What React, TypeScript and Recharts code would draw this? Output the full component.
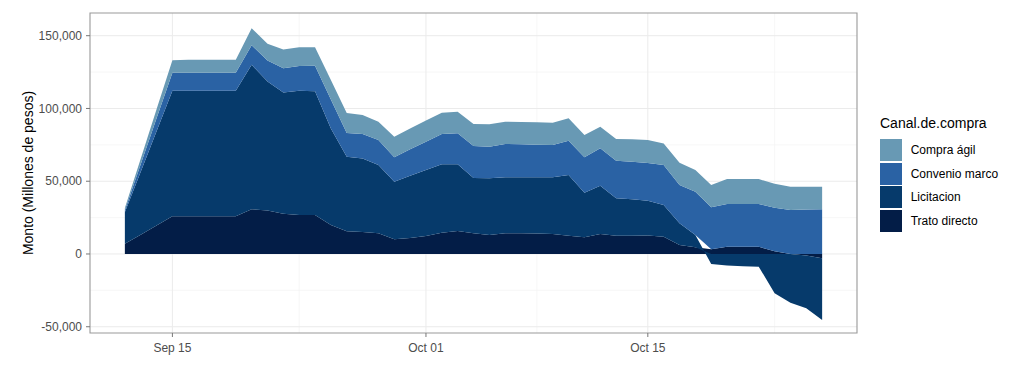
import React from 'react';
import { AreaChart, Area, XAxis, YAxis, CartesianGrid, ReferenceArea } from 'recharts';

// fechas diarias (Sep 12 - Oct 26)
const fechas = [
  '2020-09-12', '2020-09-13', '2020-09-14', '2020-09-15', '2020-09-16', '2020-09-17', '2020-09-18',
  '2020-09-19', '2020-09-20', '2020-09-21', '2020-09-22', '2020-09-23', '2020-09-24', '2020-09-25',
  '2020-09-26', '2020-09-27', '2020-09-28', '2020-09-29', '2020-09-30', '2020-10-01', '2020-10-02',
  '2020-10-03', '2020-10-04', '2020-10-05', '2020-10-06', '2020-10-07', '2020-10-08', '2020-10-09',
  '2020-10-10', '2020-10-11', '2020-10-12', '2020-10-13', '2020-10-14', '2020-10-15', '2020-10-16',
  '2020-10-17', '2020-10-18', '2020-10-19', '2020-10-20', '2020-10-21', '2020-10-22', '2020-10-23',
  '2020-10-24', '2020-10-25', '2020-10-26',
];

// montos en millones de pesos
const tratoDirecto = [
  7100, 13300, 19500, 26000, 26000, 26000, 26000, 26000, 30800, 29800, 27600, 26800, 26800, 19900,
  15600, 15100, 14200, 10100, 11000, 12400, 14600, 15800, 14200, 13100, 14200, 14200, 14100, 13700,
  12600, 11500, 13700, 12600, 12600, 12700, 11900, 6200, 4600, 3200, 5000, 5000, 5000, 1900,
  0, -1000, -3000,
];
const licitacion = [
  21500, 43200, 64800, 86200, 86200, 86200, 86200, 86200, 99200, 88700, 83400, 85400, 85000, 66400,
  51200, 50600, 46900, 39600, 42800, 45300, 47000, 45800, 38100, 38900, 38500, 38500, 38600, 39000,
  41700, 30600, 33200, 25700, 25000, 23800, 21800, 14900, 8500, -6900, -8000, -8400, -8700, -27000,
  -33500, -36300, -42300,
];
const convenioMarco = [
  1400, 5100, 8900, 12300, 12300, 12300, 12300, 12300, 13400, 14500, 16700, 16900, 17500, 19800,
  16300, 16700, 17200, 16700, 18200, 19500, 20800, 21300, 21900, 21700, 22900, 22700, 22400, 22200,
  23500, 24300, 25700, 25800, 25800, 26000, 27400, 26300, 29700, 28900, 29400, 29400, 29400, 29800,
  30200, 30500, 30700,
];
const compraAgil = [
  1600, 3900, 6300, 8700, 9000, 9000, 9000, 9000, 11800, 11400, 12900, 12900, 12700, 13400,
  13800, 13100, 12600, 14200, 14300, 14500, 14700, 14900, 15100, 15400, 15300, 15300, 15400, 15300,
  15400, 15400, 14900, 14900, 15500, 15800, 14900, 15300, 14900, 15300, 17100, 17100, 17100, 16500,
  16000, 15700, 15500,
];

const canales = [
  { key: 'trato', nombre: 'Trato directo', color: '#031d47' },
  { key: 'licitacion', nombre: 'Licitacion', color: '#063a6b' },
  { key: 'convenio', nombre: 'Convenio marco', color: '#2a62a4' },
  { key: 'compra', nombre: 'Compra ágil', color: '#6899b4' },
];

const xTickFechas = ['2020-09-15', '2020-10-01', '2020-10-15'];
const xMinorFechas = ['2020-09-23', '2020-10-08', '2020-10-23'];
const yTicks = [-50000, 0, 50000, 100000, 150000];
const yMinor = [-25000, 25000, 75000, 125000];
const yDomain = [-54300, 165600];

const DAY = 86400000;
const MESES = ['Jan', 'Feb', 'Mar', 'Apr', 'May', 'Jun', 'Jul', 'Aug', 'Sep', 'Oct', 'Nov', 'Dec'];
const toTime = (s: string) => new Date(s + 'T00:00:00Z').getTime();

const data = fechas.map((f, i) => ({
  fecha: toTime(f),
  trato: tratoDirecto[i],
  licitacion: licitacion[i],
  convenio: convenioMarco[i],
  compra: compraAgil[i],
}));

const xDomain = [toTime(fechas[0]) - 2.2 * DAY, toTime(fechas[fechas.length - 1]) + 2.2 * DAY];

const formatFecha = (t: number) => {
  const d = new Date(t);
  return `${MESES[d.getUTCMonth()]} ${String(d.getUTCDate()).padStart(2, '0')}`;
};
const formatMonto = (v: number) => v.toLocaleString('en-US');

const FONT = '"Liberation Sans", Arial, sans-serif';

export default function App() {
  return (
    <div style={{ position: 'relative', width: 1016, height: 362, fontFamily: FONT }}>
      <AreaChart
        width={1016}
        height={362}
        data={data}
        stackOffset="sign"
        margin={{ top: 5, right: 167, left: 0, bottom: 0 }}
      >
        <CartesianGrid
          stroke="#f3f3f3"
          strokeWidth={0.7}
          horizontalValues={yMinor}
          verticalValues={xMinorFechas.map(toTime)}
        />
        <CartesianGrid
          stroke="#ebebeb"
          strokeWidth={1}
          horizontalValues={yTicks}
          verticalValues={xTickFechas.map(toTime)}
        />
        <XAxis
          dataKey="fecha"
          type="number"
          domain={xDomain}
          allowDataOverflow
          ticks={xTickFechas.map(toTime)}
          interval={0}
          tickFormatter={formatFecha}
          tick={{ fontSize: 12, fill: '#4d4d4d', fontFamily: FONT }}
          tickLine={{ stroke: '#777' }}
          axisLine={false}
          tickSize={4}
          tickMargin={6}
          height={37}
        />
        <YAxis
          type="number"
          domain={yDomain}
          allowDataOverflow
          ticks={yTicks}
          interval={0}
          tickFormatter={formatMonto}
          tick={{ fontSize: 12, fill: '#4d4d4d', fontFamily: FONT }}
          tickLine={{ stroke: '#777' }}
          axisLine={false}
          tickSize={4}
          tickMargin={4}
          width={82}
        />
        {canales.map((c) => (
          <Area
            key={c.key}
            type="linear"
            dataKey={c.key}
            name={c.nombre}
            stackId="1"
            stroke="none"
            fill={c.color}
            fillOpacity={1}
            dot={false}
            activeDot={false}
            isAnimationActive={false}
          />
        ))}
        <ReferenceArea
          x1={xDomain[0]}
          x2={xDomain[1]}
          y1={yDomain[0]}
          y2={yDomain[1]}
          fill="none"
          stroke="#999"
          strokeWidth={1.1}
        />
      </AreaChart>

      {/* titulo eje Y */}
      <svg width={40} height={362} style={{ position: 'absolute', left: 0, top: 0 }}>
        <text
          x={20}
          y={165}
          transform="rotate(-90 20 165)"
          textAnchor="middle"
          dominantBaseline="central"
          fontSize={14}
          fill="#000"
          fontFamily={FONT}
        >
          Monto (Millones de pesos)
        </text>
      </svg>

      {/* leyenda */}
      <div style={{ position: 'absolute', left: 872, top: 107, color: '#000' }}>
        <div style={{ fontSize: 14, lineHeight: '16px', height: 23 }}>Canal.de.compra</div>
        {[...canales].reverse().map((c) => (
          <div key={c.key} style={{ display: 'flex', alignItems: 'center', height: 23.7 }}>
            <div style={{ width: 22, height: 22, background: c.color }} />
            <span style={{ marginLeft: 8.7, fontSize: 12 }}>{c.nombre}</span>
          </div>
        ))}
      </div>
    </div>
  );
}
